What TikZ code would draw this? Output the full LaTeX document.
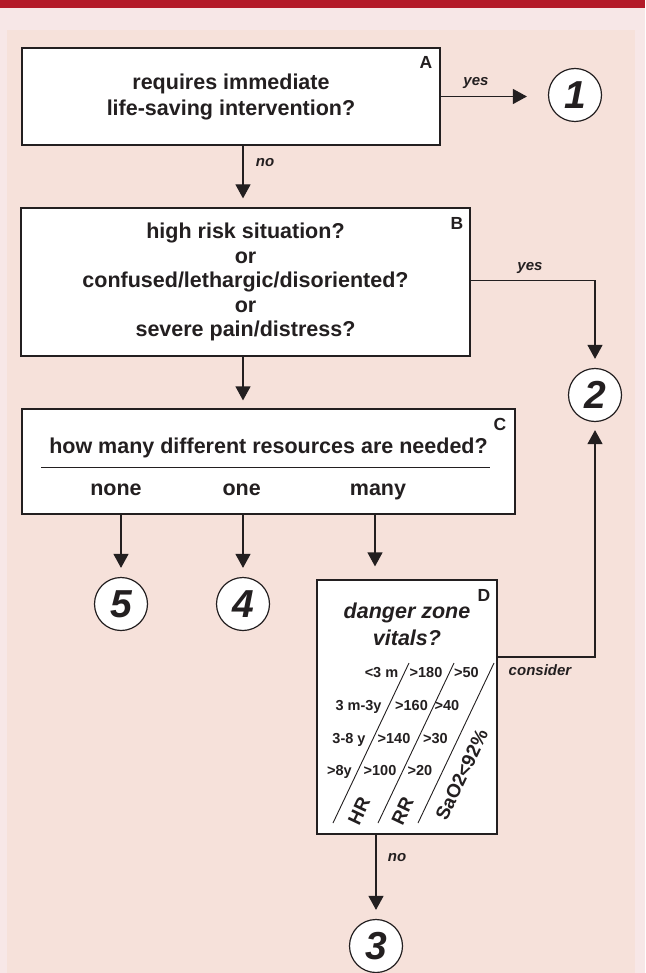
\documentclass[tikz,border=0pt]{standalone}
\usepackage{fontspec}
\setmainfont{Liberation Sans}
\usetikzlibrary{arrows.meta,calc}
\definecolor{barred}{RGB}{180,26,41}
\definecolor{outerpink}{RGB}{247,231,231}
\definecolor{panelpink}{RGB}{246,225,218}
\definecolor{ink}{RGB}{35,31,32}
\newcommand\fsz[2]{\fontsize{#1}{#2}\selectfont}
\begin{document}
\begin{tikzpicture}[x=1pt,y=-1pt,
  box/.style={draw=ink, line width=1.2pt, fill=white, inner sep=0pt, align=center, text=ink},
  tag/.style={font=\bfseries\fsz{17.5}{18}, text=ink, inner sep=0pt},
  endpt/.style={circle, draw=ink, line width=1.2pt, fill=white, minimum size=53pt, inner sep=0pt,
                font=\bfseries\itshape\fsz{39}{40}, text=ink},
  arr/.style={draw=ink, line width=1.2pt, -{Triangle[length=14pt,width=15pt]}},
  lbl/.style={font=\bfseries\itshape\fsz{15}{16}, text=ink, inner sep=0pt},
  opt/.style={font=\bfseries\fsz{21.5}{24}, text=ink, inner sep=0pt, anchor=base},
  vit/.style={font=\bfseries\fsz{14.5}{15}, text=ink, inner sep=0pt, anchor=base},
  axislbl/.style={font=\bfseries\fsz{19}{20}, text=ink, inner sep=0pt, rotate=64.6},
  slant/.style={draw=ink, line width=0.9pt},
]
% background and header band
\fill[outerpink] (0,0) rectangle (645,973);
\fill[barred] (0,0) rectangle (645,8);
\fill[panelpink] (7,30) rectangle (635,973);
\useasboundingbox (0,0) rectangle (645,973);

% decision boxes
\node[box, minimum width=418pt, minimum height=97pt, font=\bfseries\fsz{21.5}{26}] (A) at (231,96.5)
  {requires immediate\\life-saving intervention?};
\node[tag] (tA) at (426,62) {A};

\node[box, minimum width=449pt, minimum height=148pt, font=\bfseries\fsz{21.5}{24.5}] (B) at (245.5,282)
  {high risk situation?\\or\\confused/lethargic/disoriented?\\or\\severe pain/distress?};
\node[tag] (tB) at (457,223) {B};

\node[box, minimum width=493pt, minimum height=105pt] (C) at (268.5,461.5) {};
\node[tag] (tC) at (500,424) {C};
\node[opt] (Cq) at (268.5,453) {how many different resources are needed?};
\draw[draw=ink, line width=1pt] (41,467) -- (490,467);
\node[opt] (none) at (116,495) {none};
\node[opt] (one) at (241.7,495) {one};
\node[opt] (many) at (378,495) {many};

\node[box, minimum width=180pt, minimum height=254pt] (D) at (407,707) {};
\node[tag] (tD) at (484,595.5) {D};
\node[opt, font=\bfseries\itshape\fsz{21.5}{24}] (Dq1) at (407,618) {danger zone};
\node[opt, font=\bfseries\itshape\fsz{21.5}{24}] (Dq2) at (407,645) {vitals?};

% vital-sign table
\draw[slant] (409,663) -- (333,823);
\draw[slant] (454,663) -- (378,823);
\draw[slant] (494,663) -- (418,823);
\node[vit] at (381.5,677) {<3 m};
\node[vit] at (426,677) {>180};
\node[vit] at (466.5,677) {>50};
\node[vit] at (358.5,710) {3 m-3y};
\node[vit] at (411.5,710) {>160};
\node[vit] at (447,710) {>40};
\node[vit] at (349,743) {3-8 y};
\node[vit] at (394,743) {>140};
\node[vit] at (435.5,743) {>30};
\node[vit] at (339.5,775) {>8y};
\node[vit] at (380,775) {>100};
\node[vit] at (420,775) {>20};
\node[axislbl] at (359,811) {HR};
\node[axislbl] at (402.5,811) {RR};
\node[axislbl] at (461.7,775) {SaO2<92\%};

% outcome levels
\node[endpt] (e1) at (575,95) {1};
\node[endpt] (e2) at (595,395) {2};
\node[endpt] (e5) at (121,604) {5};
\node[endpt] (e4) at (243,604) {4};
\node[endpt] (e3) at (376,946) {3};

% connectors
\draw[arr, shorten >=21pt] (A.east) -- (A.east -| e1.west);
\node[lbl] at (476,83) {yes};
\draw[arr, shorten >=9pt] ([xshift=12pt]A.south) -- ([xshift=12pt]A.south |- B.north);
\node[lbl] at (265,163) {no};
\draw[arr, shorten >=8pt] ([xshift=-2.5pt]B.south) -- ([xshift=-2.5pt]B.south |- C.north);
\draw[arr, shorten >=9pt] ([yshift=1.3pt]B.east) -| (e2.north);
\node[lbl] at (530,268) {yes};
\draw[arr, shorten >=9pt] (C.south -| e5) -- (e5.north);
\draw[arr, shorten >=9pt] (C.south -| e4) -- (e4.north);
\draw[arr, shorten >=13pt] ([xshift=-32pt]D.north |- C.south) -- ([xshift=-32pt]D.north);
\draw[arr, shorten >=9pt] (D.south -| e3) -- (e3.north);
\node[lbl] at (397,858) {no};
\draw[arr, shorten >=8pt] ([yshift=50pt]D.east) -| (e2.south);
\node[lbl] at (540,670) {consider};
\end{tikzpicture}
\end{document}
